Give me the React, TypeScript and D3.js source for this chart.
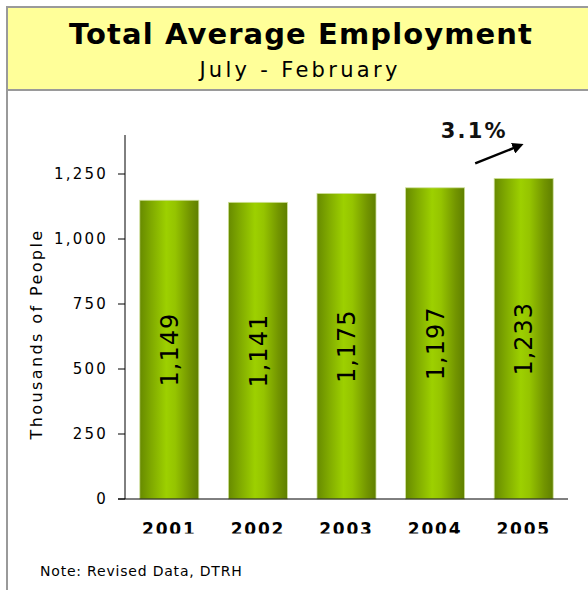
import React from "react";
import * as d3 from "d3";

const years: string[] = ["2001", "2002", "2003", "2004", "2005"];
const employment: number[] = [1149, 1141, 1175, 1197, 1233];
const yTicks: number[] = [0, 250, 500, 750, 1000, 1250];
const titleText = "Total Average Employment";
const subtitleText = "July - February";
const yAxisTitle = "Thousands of People";
const noteText = "Note: Revised Data, DTRH";
const growthLabel = "3.1%";

const W = 588;
const H = 590;
const FONT = "'DejaVu Sans', Verdana, sans-serif";

export default function App() {
  const x = d3.scaleBand<string>().domain(years).range([125, 568]).paddingInner(0.334).paddingOuter(0.167);
  const y = d3.scaleLinear().domain([0, 1400]).range([499, 135]);
  const fmt = d3.format(",");
  const bw = x.bandwidth();

  const last = years.length - 1;
  const lx = x(years[last])!;
  const ly = y(employment[last]);

  return (
    <svg width={W} height={H} style={{ position: "absolute", left: 0, top: 0, background: "#fff" }} fontFamily={FONT}>
      <defs>
        <linearGradient id="barGrad" x1="0" x2="1" y1="0" y2="0">
          <stop offset="0" stopColor="#678a00" />
          <stop offset="0.2" stopColor="#80aa00" />
          <stop offset="0.45" stopColor="#9dd000" />
          <stop offset="0.6" stopColor="#95c400" />
          <stop offset="0.85" stopColor="#729400" />
          <stop offset="1" stopColor="#5f7f00" />
        </linearGradient>
        <clipPath id="yearClip">
          <rect x={0} y={0} width={W} height={533.5} />
        </clipPath>
        <marker id="arrowHead" viewBox="0 0 10 10" refX="2" refY="5" markerWidth="4.5" markerHeight="4.5" orient="auto">
          <path d="M0,0 L10,5 L0,10 z" fill="#000" />
        </marker>
      </defs>

      {/* frame */}
      <rect x={8} y={8} width={W} height={81} fill="#ffff99" />
      <rect x={6} y={6} width={W} height={2} fill="#9a9a9a" />
      <rect x={6} y={6} width={2} height={H} fill="#9a9a9a" />
      <rect x={8} y={89} width={W} height={2} fill="#9a9a9a" />

      <text x={301} y={44} textAnchor="middle" fontSize={29} fontWeight="bold" letterSpacing={1.1} fill="#000">
        {titleText}
      </text>
      <text x={300} y={77} textAnchor="middle" fontSize={21} letterSpacing={3.3} fill="#000">
        {subtitleText}
      </text>

      {/* y axis */}
      <line x1={125} x2={125} y1={y(1400)} y2={y(0)} stroke="#000" strokeWidth={1} />
      {yTicks.map((t) => (
        <g key={t}>
          <line x1={118} x2={125} y1={y(t)} y2={y(t)} stroke="#000" strokeWidth={1} />
          <text x={108} y={y(t)} dy="0.36em" textAnchor="end" fontSize={15} letterSpacing={2.2} fill="#000">
            {fmt(t)}
          </text>
        </g>
      ))}
      <text
        transform={`translate(42,${(y(0) + y(1400)) / 2 + 17}) rotate(-90)`}
        textAnchor="middle"
        fontSize={16}
        letterSpacing={2.4}
        fill="#000"
      >
        {yAxisTitle}
      </text>

      {/* bars */}
      {years.map((yr, i) => {
        const bx = x(yr)!;
        const top = y(employment[i]);
        const mid = (top + y(0)) / 2;
        return (
          <g key={yr}>
            <rect x={bx} y={top} width={bw} height={y(0) - top} fill="url(#barGrad)" stroke="#cfe09a" strokeWidth={0.8} />
            <text
              transform={`translate(${bx + bw / 2},${mid}) rotate(-90)`}
              textAnchor="middle"
              dy="0.36em"
              fontSize={24}
              letterSpacing={1}
              fill="#000"
            >
              {fmt(employment[i])}
            </text>
          </g>
        );
      })}

      {/* x axis */}
      <line x1={118} x2={568} y1={y(0)} y2={y(0)} stroke="#000" strokeWidth={1} />
      <g clipPath="url(#yearClip)">
        {years.map((yr) => (
          <text key={yr} x={x(yr)! + bw / 2} y={535} textAnchor="middle" fontSize={17} fontWeight="bold" letterSpacing={1.8} fill="#000">
            {yr}
          </text>
        ))}
      </g>

      {/* growth annotation */}
      <text x={lx - 20} y={ly - 40} textAnchor="middle" fontSize={21} fontWeight="bold" letterSpacing={2.2} fill="#111">
        {growthLabel}
      </text>
      <line x1={lx - 19} y1={ly - 15} x2={lx + 21} y2={ly - 31} stroke="#000" strokeWidth={2.5} markerEnd="url(#arrowHead)" />

      <text x={40} y={576} fontSize={14} letterSpacing={0.8} fill="#000">
        {noteText}
      </text>
    </svg>
  );
}
